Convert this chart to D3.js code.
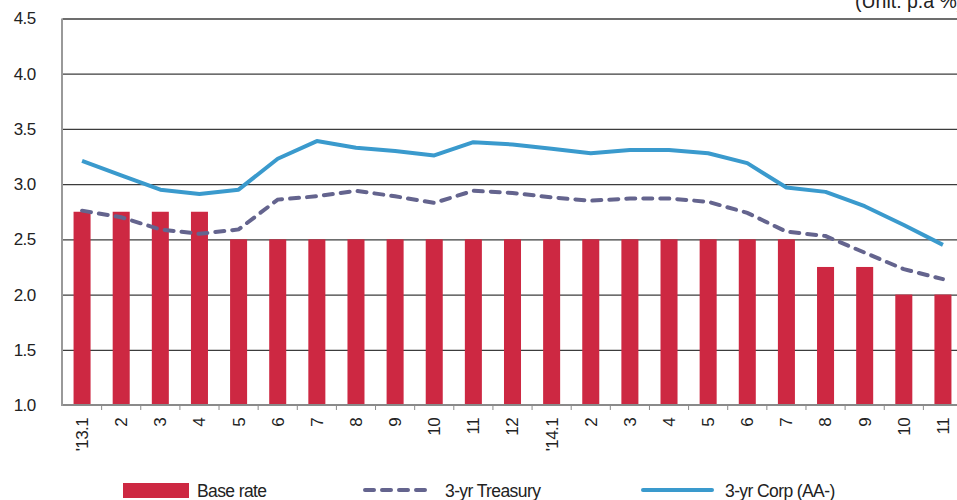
<!DOCTYPE html>
<html>
<head>
<meta charset="utf-8">
<script src="https://cdn.jsdelivr.net/npm/d3@7"></script>
<style>
  body { margin: 0; background: #fff; overflow: hidden; }
  text { font-family: "Liberation Sans", Arial, sans-serif; fill: #222; }
</style>
</head>
<body>
<div id="chart"></div>
<script>
// month labels ('13.1 .. '14.11)
var months = ["'13.1", "2", "3", "4", "5", "6", "7", "8", "9", "10", "11", "12",
              "'14.1", "2", "3", "4", "5", "6", "7", "8", "9", "10", "11"];
var baseRate = [2.75, 2.75, 2.75, 2.75, 2.50, 2.50, 2.50, 2.50, 2.50, 2.50, 2.50, 2.50,
                2.50, 2.50, 2.50, 2.50, 2.50, 2.50, 2.50, 2.25, 2.25, 2.00, 2.00];
var treasury = [2.76, 2.70, 2.59, 2.55, 2.59, 2.86, 2.89, 2.94, 2.89, 2.83, 2.94, 2.92,
                2.88, 2.85, 2.87, 2.87, 2.84, 2.74, 2.57, 2.53, 2.38, 2.23, 2.14];
var corp = [3.21, 3.08, 2.95, 2.91, 2.95, 3.23, 3.39, 3.33, 3.30, 3.26, 3.38, 3.36,
            3.32, 3.28, 3.31, 3.31, 3.28, 3.19, 2.97, 2.93, 2.80, 2.63, 2.45];
var yTicks = [1.0, 1.5, 2.0, 2.5, 3.0, 3.5, 4.0, 4.5];
var seriesNames = ["Base rate", "3-yr Treasury", "3-yr Corp (AA-)"];

var width = 957, height = 500;
var plotLeft = 62.5, plotRight = 962.5; // plot runs a bit past the window edge
var plotTop = 18.5, plotBottom = 405;

var barColor = "#cd2842";
var treasuryColor = "#64648e";
var corpColor = "#3a9acd";

var svg = d3.select("#chart").append("svg")
    .attr("width", width)
    .attr("height", height);

var idx = d3.range(months.length);

// scales
var x = d3.scaleBand()
    .domain(idx)
    .range([plotLeft, plotRight])
    .paddingInner(0.565)
    .paddingOuter(0.2825);
var step = x.step();
var xc = function (i) { return x(i) + x.bandwidth() / 2; };

var y = d3.scaleLinear()
    .domain([1.0, 4.5])
    .range([plotBottom, plotTop]);

// horizontal grid lines + y labels
var yAxis = svg.append("g")
    .attr("transform", "translate(" + plotLeft + ",0)")
    .call(d3.axisLeft(y)
        .tickValues(yTicks)
        .tickSize(-(plotRight - plotLeft))
        .tickPadding(27)
        .tickFormat(d3.format(".1f")));
yAxis.select(".domain").remove();
yAxis.selectAll("line")
    .attr("stroke", function (d) { return d === 1.0 ? "none" : "#3c3c3c"; })
    .attr("stroke-width", 1.3);
yAxis.selectAll("text")
    .attr("font-size", 17)
    .attr("letter-spacing", -0.6)
    .attr("fill", "#222");

// bars
svg.append("g").selectAll("rect").data(idx).enter().append("rect")
    .attr("x", function (i) { return x(i); })
    .attr("y", function (i) { return y(baseRate[i]); })
    .attr("width", x.bandwidth())
    .attr("height", function (i) { return y(1.0) - y(baseRate[i]); })
    .attr("fill", barColor);

// lines
var line = function (values) {
    return d3.line()
        .x(function (i) { return xc(i); })
        .y(function (i) { return y(values[i]); })(idx);
};

svg.append("path")
    .attr("d", line(treasury))
    .attr("fill", "none")
    .attr("stroke", treasuryColor)
    .attr("stroke-width", 4)
    .attr("stroke-dasharray", "9,8")
    .attr("stroke-linecap", "round");

svg.append("path")
    .attr("d", line(corp))
    .attr("fill", "none")
    .attr("stroke", corpColor)
    .attr("stroke-width", 4)
    .attr("stroke-linejoin", "round");

// x axis (ticks at band boundaries)
var xAxis = svg.append("g")
    .attr("transform", "translate(0," + plotBottom + ")");
xAxis.append("line")
    .attr("x1", plotLeft)
    .attr("x2", plotRight)
    .attr("stroke", "#8a8a8a")
    .attr("stroke-width", 2);
xAxis.selectAll("line.tick").data(idx.slice(1)).enter().append("line")
    .attr("class", "tick")
    .attr("x1", function (i) { return plotLeft + i * step; })
    .attr("x2", function (i) { return plotLeft + i * step; })
    .attr("y1", 1)
    .attr("y2", 5)
    .attr("stroke", "#8a8a8a")
    .attr("stroke-width", 1);
xAxis.selectAll("text").data(idx).enter().append("text")
    .attr("transform", function (i) { return "translate(" + xc(i) + ",13) rotate(-90)"; })
    .attr("text-anchor", "end")
    .attr("dy", "0.35em")
    .attr("font-size", 17)
    .attr("letter-spacing", -0.6)
    .text(function (i) { return months[i]; });

// left axis line
svg.append("line")
    .attr("x1", plotLeft - 0.5)
    .attr("x2", plotLeft - 0.5)
    .attr("y1", plotTop)
    .attr("y2", plotBottom + 1)
    .attr("stroke", "#999")
    .attr("stroke-width", 2);

// unit label (partly cut off at the top right, as in the source)
svg.append("text")
    .attr("x", 855)
    .attr("y", 7.5)
    .attr("font-size", 19.5)
    .text("(Unit: p.a %)");

// legend
var legend = svg.append("g");
legend.append("rect")
    .attr("x", 123).attr("y", 483)
    .attr("width", 66).attr("height", 15)
    .attr("fill", barColor);
legend.append("line")
    .attr("x1", 365).attr("x2", 428)
    .attr("y1", 490).attr("y2", 490)
    .attr("stroke", treasuryColor)
    .attr("stroke-width", 4)
    .attr("stroke-dasharray", "9,8")
    .attr("stroke-linecap", "round");
legend.append("line")
    .attr("x1", 643).attr("x2", 712)
    .attr("y1", 490).attr("y2", 490)
    .attr("stroke", corpColor)
    .attr("stroke-width", 4)
    .attr("stroke-linecap", "round");
legend.selectAll("text.lab").data([197, 445, 725]).enter().append("text")
    .attr("class", "lab")
    .attr("x", function (d) { return d; })
    .attr("y", 497)
    .attr("font-size", 17.5)
    .attr("letter-spacing", -0.6)
    .text(function (d, i) { return seriesNames[i]; });
</script>
</body>
</html>
